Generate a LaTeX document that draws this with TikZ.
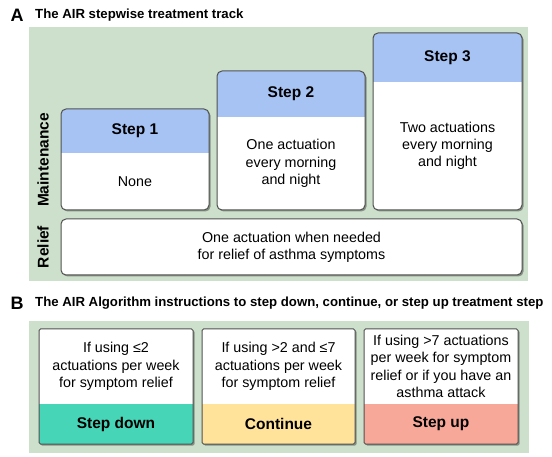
\documentclass[tikz,border=0pt]{standalone}
\usepackage{fontspec}
\setmainfont{Liberation Sans}
\usetikzlibrary{shadows}
\definecolor{panelc}{HTML}{CDE0CB}
\definecolor{headc}{HTML}{A6C3F4}
\definecolor{downc}{HTML}{46D5B7}
\definecolor{contc}{HTML}{FFE39B}
\definecolor{upc}{HTML}{F8A898}
\definecolor{edgec}{HTML}{505050}
\tikzset{
  panel/.style={fill=panelc},
  card/.style={fill=white, inner sep=0pt, outer sep=0pt,
    drop shadow={shadow xshift=1.5pt, shadow yshift=-1.5pt, fill=black, opacity=0.35}},
  stepcard/.style={card, rounded corners=5pt, path picture={
    \fill[headc, sharp corners] (path picture bounding box.north west) rectangle
      ([yshift=-#1]path picture bounding box.north east);}},
  rulecard/.style={card, rounded corners=1.5pt, path picture={
    \fill[#1, sharp corners] ([yshift=40pt]path picture bounding box.south west) rectangle
      (path picture bounding box.south east);}},
  cardedge/.style={draw=edgec, line width=1pt, rounded corners=#1},
  cardedge/.default=5pt,
  steplbl/.style={font=\fontsize{15.5}{18}\selectfont\bfseries},
  bodytxt/.style={font=\fontsize{14.3}{17.3}\selectfont, align=center},
  sidelbl/.style={font=\fontsize{15.5}{18}\selectfont\bfseries, rotate=90},
  paneltag/.style={font=\fontsize{18}{20}\selectfont\bfseries, inner sep=0pt},
  headline/.style={font=\fontsize{13.2}{15}\selectfont\bfseries, anchor=west, inner sep=0pt},
}
\begin{document}
\begin{tikzpicture}[x=1pt, y=-1pt]
\useasboundingbox (0,0) rectangle (552,457);
% panel A
\node[paneltag] (tagA) at (17,15) {A};
\node[headline] (titleA) at (35,15) {The AIR stepwise treatment track};
\fill[panel] (29,27) rectangle (528,281);
\node[stepcard=44pt, minimum width=148pt, minimum height=101pt] (step1) at (135,159.5) {};
\node[stepcard=46pt, minimum width=148pt, minimum height=139pt] (step2) at (291,140.5) {};
\node[stepcard=49pt, minimum width=149pt, minimum height=177pt] (step3) at (447.5,121.5) {};
\node[card, rounded corners=5pt, minimum width=461pt, minimum height=56pt] (relief) at (291.5,247) {};
\draw[cardedge] (step1.north west) rectangle (step1.south east);
\draw[cardedge] (step2.north west) rectangle (step2.south east);
\draw[cardedge] (step3.north west) rectangle (step3.south east);
\draw[cardedge] (relief.north west) rectangle (relief.south east);
\node[steplbl] (step1h) at (135,131) {Step 1};
\node[steplbl] (step2h) at (291,94) {Step 2};
\node[steplbl] (step3h) at (447.5,57.5) {Step 3};
\node[bodytxt] (step1b) at (135,181.5) {None};
\node[bodytxt] (step2b) at (291,163.5) {One actuation\\every morning\\and night};
\node[bodytxt] (step3b) at (447.5,146) {Two actuations\\every morning\\and night};
\node[bodytxt] (reliefb) at (291.5,247) {One actuation when needed\\for relief of asthma symptoms};
\node[sidelbl] (maintlbl) at (43,160) {Maintenance};
\node[sidelbl] (relieflbl) at (43,247) {Relief};
% panel B
\node[paneltag] (tagB) at (17,303) {B};
\node[headline] (titleB) at (35,303) {The AIR Algorithm instructions to step down, continue, or step up treatment step};
\fill[panel] (29,321) rectangle (529,453);
\node[rulecard=downc, minimum width=154pt, minimum height=115pt] (down) at (116,386.5) {};
\node[rulecard=contc, minimum width=153pt, minimum height=115pt] (cont) at (278.5,386.5) {};
\node[rulecard=upc, minimum width=154pt, minimum height=115pt] (up) at (441,386.5) {};
\draw[cardedge=1.5pt] (down.north west) rectangle (down.south east);
\draw[cardedge=1.5pt] (cont.north west) rectangle (cont.south east);
\draw[cardedge=1.5pt] (up.north west) rectangle (up.south east);
\node[bodytxt] (downb) at (116,366.5) {If using ≤2\\actuations per week\\for symptom relief};
\node[bodytxt] (contb) at (278.5,366.5) {If using >2 and ≤7\\actuations per week\\for symptom relief};
\node[bodytxt] (upb) at (441,366.5) {If using >7 actuations\\per week for symptom\\relief or if you have an\\asthma attack};
\node[steplbl] (downh) at (116,424) {Step down};
\node[steplbl] (conth) at (278.5,424) {Continue};
\node[steplbl] (uph) at (441,424) {Step up};
\end{tikzpicture}
\end{document}
